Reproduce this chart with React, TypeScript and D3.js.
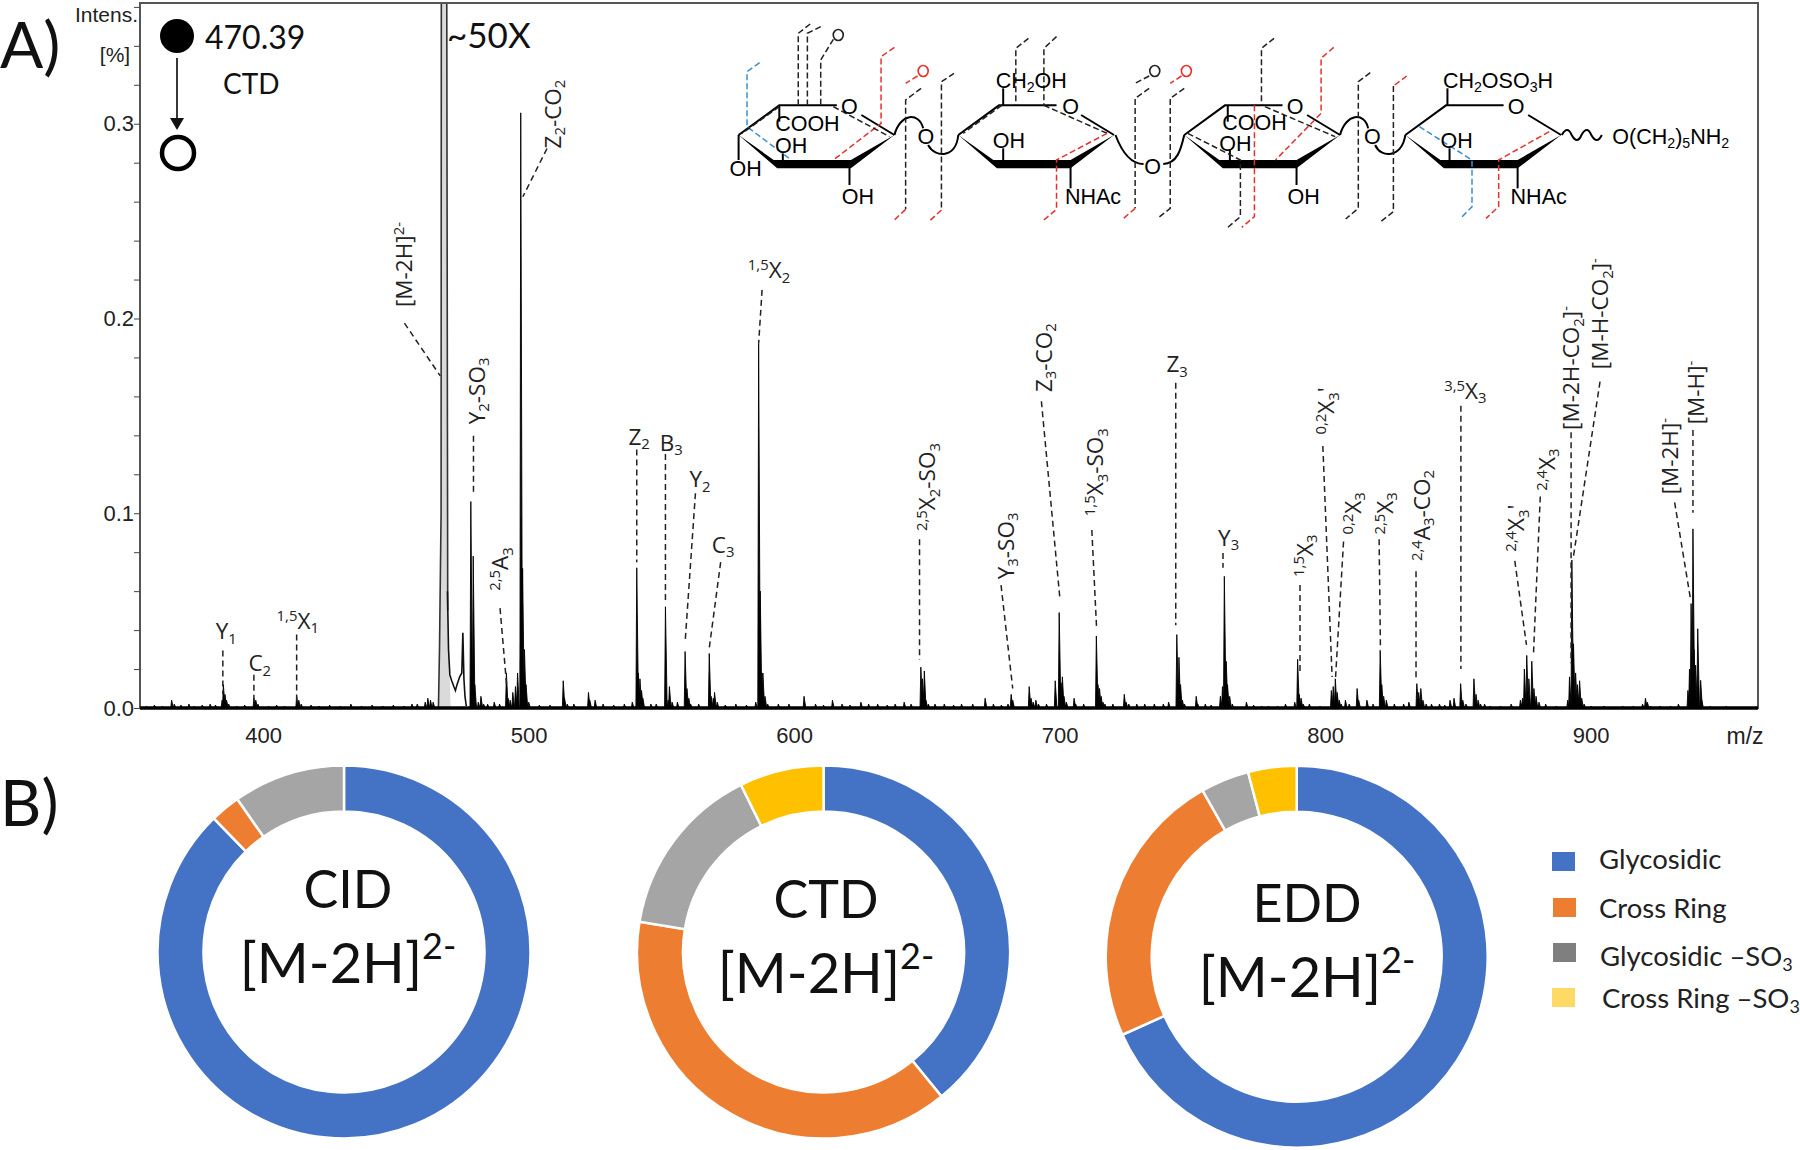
import * as d3 from 'd3';
import React, { useRef, useEffect } from 'react';

// ---- spectrum values: [m/z, relative intensity %]
const lowMassPeaks = [
  [365.5, .004], [366.5, .002], [384.5, .004], [385, .012], [385.6, .007], [386.2, .004], [387, .002],
  [396.5, .005], [397.2, .004], [398, .002], [412.6, .006], [413.4, .004], [414.3, .002],
  [461, .003], [462, .005], [463, .004], [464, .003], [478.2, .106], [479.1, .078], [479.7, .012],
  [481, .003], [482, .006], [483, .002], [487, .003], [491.6, .018], [492.2, .005], [493, .004],
  [494, .008], [495, .011], [495.8, .018], [497, .3056], [497.7, .0717], [498.4, .03], [499, .012],
  [500, .003], [513, .014], [513.5, .005], [514.5, .002], [522.5, .008], [523, .004], [525, .004],
  [539, .003], [540.7, .072], [541.3, .018], [541.9, .015], [542.5, .009], [543, .005],
  [551.5, .052], [552.5, .004], [553, .011], [554, .003], [556, .003],
  [558.9, .029], [559.6, .01], [560.3, .005], [561, .002], [568, .028], [568.7, .006], [569.5, .005],
  [570, .008], [571, .003], [585.5, .003], [586.6, .187], [587.2, .06], [587.8, .018], [588.2, .018],
  [589, .006], [590, .002],
];
const midMassPeaks = [
  [603.7, .006], [614.4, .004], [625.1, .003], [631.4, .002], [641.4, .003],
  [647.7, .021], [648.3, .015], [649, .019], [649.6, .004], [650.5, .002], [656.5, .002], [667.2, .002],
  [671.9, .005], [680.5, .002], [681.7, .007], [682.3, .004], [688.5, .011], [689.2, .005], [690, .003],
  [691, .004], [692, .002], [698.3, .014], [699.8, .049], [700.5, .013], [701, .016], [701.6, .006],
  [702.5, .003], [705.4, .005], [706, .002], [713.8, .037], [714.4, .012], [715, .01], [715.6, .006],
  [716.3, .003], [717, .002], [724.3, .007], [725, .003], [726, .002], [735.6, .002],
  [744.1, .0377], [744.9, .026], [745.5, .012], [746.2, .004], [747, .002], [751.4, .006], [752, .002],
  [754.8, .002], [760.5, .006], [761.3, .011], [762, .0676], [762.7, .024], [763.2, .012], [764, .006],
  [765, .002], [770.3, .003], [778.6, .001],
];
const highMassPeaks = [
  [788.5, .003], [789.6, .025], [790.2, .007], [790.9, .005], [791.7, .002], [802.3, .009], [803, .011],
  [803.8, .015], [804.5, .008], [805.3, .004], [806, .002], [807.6, .004], [812, .01], [812.6, .004],
  [815.7, .004], [820.7, .0296], [821.3, .012], [822, .006], [823, .004], [829.5, .002], [831.5, .003],
  [834.5, .0125], [835.2, .008], [836, .01], [836.8, .004], [838, .002], [840, .002], [847, .004],
  [848.5, .005], [851, .0125], [851.8, .004], [853, .002], [856, .015], [856.8, .007], [857.6, .004],
  [858.5, .002], [862, .001], [873.5, .004], [874.3, .005], [875, .02], [875.9, .027], [876.7, .015],
  [877.8, .024], [878.6, .01], [879.4, .006], [880.5, .003], [891.3, .004], [892, .016], [892.9, .076],
  [893.5, .033], [894.3, .018], [895, .012], [895.8, .014], [896.6, .005], [897.5, .002],
  [919.5, .002], [920.6, .005], [921.3, .003], [922.5, .001], [936.6, .009], [937.2, .02], [937.8, .0536],
  [938.5, .092], [938.9, .03], [939.5, .022], [940.3, .0407], [941.4, .0142], [941.8, .004],
];
const noisePeaks = [
  [356, .001], [359, .0015], [362, .001], [369, .0015], [372, .002], [374, .001], [377, .0015], [380, .002],
  [382, .0015], [390, .001], [393, .0015], [402, .001], [405, .0015], [408, .001], [418, .0015], [421, .001],
  [425, .0015], [429, .001], [433, .002], [437, .001], [441, .0015], [445, .001], [449, .0015], [453, .001],
  [456, .002], [458, .002], [484.5, .002], [489, .002], [504, .0015], [508, .0015], [517, .002], [528, .002],
  [532, .0015], [536, .002], [546, .002], [548, .002], [564, .002], [574, .0015], [578, .002], [582, .0015],
  [594, .002], [598, .002], [608, .002], [611, .0015], [618, .002], [621, .0015], [628, .002], [635, .0015],
  [638, .002], [644, .002], [653, .002], [660, .0015], [663, .002], [675, .002], [678, .0015], [695, .002],
  [709, .002], [720, .002], [729, .002], [732, .002], [739, .002], [741, .003], [757, .0015], [773, .0015],
  [776, .001], [782, .001], [785, .002], [794, .002], [798, .001], [809, .002], [818, .002], [826, .002],
  [843, .002], [845, .0015], [860, .002], [866, .001], [870, .002], [883, .002], [887, .001], [900, .001],
  [905, .001], [912, .001], [916, .001], [926, .001], [930, .001], [933, .002], [945, .001], [951, .001],
];
const precursorProfile = [
  [466, 0], [466.4, .03], [467, .1], [467.1, .4], [469.1, .4], [469.5, .05], [470.6, 0],
];
const shoulderProfile = [[495.8, 0], [496.4, .025], [498.2, .025], [498.6, 0]];
const precursorTail = [
  [469.4, .06], [469.8, .03], [470.3, .017], [471, .014], [471.8, .011], [472.4, .009], [473, .012],
  [474, .016], [474.8, .018], [475.2, .0386], [475.6, .015], [476, .006], [476.5, .001],
];

const yTicks = d3.range(0, 0.37, 0.02);
const xTicks = [400, 500, 600, 700, 800, 900];

// ---- fragment annotations. text uses ^{} for upper and _{} for lower index
// [text, rotated, label m/z, label intensity, leader m/z 1, intensity 1, m/z 2, intensity 2]
const fragments: [string, boolean, number, number, number, number, number, number][] = [
  ['Y_{1}', false, 386.1, .0354, 384.8, .0295, 384.8, .0071],
  ['C_{2}', false, 398.7, .0189, 396.5, .0171, 396.5, .0041],
  ['^{1,5}X_{1}', false, 413, .0407, 412.6, .0378, 412.6, .0041],
  ['[M-2H]^{2-}', true, 453.2, .2059, 453.2, .1976, 466.7, .1705],
  ['Y_{2}-SO_{3}', true, 480.5, .1457, 479.2, .1398, 479.2, .1103],
  ['^{2,5}A_{3}', true, 489.2, .0602, 489.2, .0513, 491.8, .01],
  ['Z_{2}-CO_{2}', true, 509, .2873, 506.9, .2873, 497.8, .2625],
  ['Z_{2}', false, 541.6, .1351, 540.7, .1327, 540.7, .0749],
  ['B_{3}', false, 553.7, .1322, 551.5, .1304, 551.5, .0543],
  ['Y_{2}', false, 564.5, .1133, 562.8, .1103, 558.9, .0336],
  ['C_{3}', false, 573.2, .0796, 572.3, .0749, 568, .0307],
  ['^{1,5}X_{2}', false, 590.5, .2206, 587.9, .2147, 586.6, .187],
  ['^{2,5}X_{2}-SO_{3}', true, 650.2, .0909, 647.2, .0867, 647.2, .0248],
  ['Y_{3}-SO_{3}', true, 679.7, .0661, 677.9, .0631, 682.3, .01],
  ['Z_{3}-CO_{2}', true, 693.9, .1622, 693.1, .1575, 700, .0572],
  ['^{1,5}X_{3}-SO_{3}', true, 713.4, .0985, 712.1, .0914, 713.9, .0407],
  ['Z_{3}', false, 744.2, .1723, 743.7, .167, 743.7, .0425],
  ['Y_{3}', false, 763.6, .0832, 761.5, .0796, 761.5, .072],
  ['^{1,5}X_{3}', true, 792.2, .0673, 790.5, .0631, 790.5, .0189],
  ["^{0,2}X_{3}'", true, 800.4, .1404, 799.1, .1345, 802.6, .0159],
  ['^{0,2}X_{3}', true, 810.4, .0891, 806.9, .0855, 803.9, .0159],
  ['^{2,5}X_{3}', true, 822.5, .0891, 820.3, .0867, 820.8, .0301],
  ['^{2,4}A_{3}-CO_{2}', true, 836.4, .0755, 834.2, .0702, 834.2, .0147],
  ['^{3,5}X_{3}', false, 852.8, .1587, 851.1, .1552, 851.1, .02],
  ["^{2,4}X_{3}'", true, 871.9, .0802, 871.4, .0755, 875.8, .0324],
  ['^{2,4}X_{3}', true, 883.5, .1115, 881, .1086, 878.4, .0265],
  ['[M-2H-CO_{2}]^{-}', true, 892.6, .1428, 892.6, .1416, 892.6, .023],
  ['[M-H-CO_{2}]^{-}', true, 903.5, .174, 903.5, .1676, 893.5, .0779],
  ['[M-H]^{-}', true, 939.8, .1457, 938.5, .1428, 938.5, .1003],
  ['[M-2H]^{-}', true, 929.9, .1097, 931.6, .1056, 937.7, .0549],
];

// ---- fragment type shares of the three dissociation methods, in percent
const fragmentTypes = ['Glycosidic', 'Cross Ring', 'Glycosidic –SO', 'Cross Ring –SO'];
const cidShares = [87.7, 2.6, 9.7, 0];
const ctdShares = [39.1, 38.5, 15.1, 7.3];
const eddShares = [68.3, 23.5, 4.1, 4.1];
const donutColors = ['#4472C4', '#ED7D31', '#A5A5A5', '#FFC000'];
const legendColors = ['#4472C4', '#ED7D31', '#7F7F7F', '#FFD966'];

const CALIBRI = 'Lato, "Open Sans", sans-serif';
const ARIAL = '"Liberation Sans", Arial, sans-serif';
const LABEL = '"Open Sans", sans-serif';

const x = d3.scaleLinear().domain([353.6, 963]).range([140, 1758]);
const y = d3.scaleLinear().domain([0, 0.362]).range([708, 3]);

const stick = d3.line()
  .x((d: any) => x(d[0]))
  .y((d: any) => y(d[1]));

function peakPath(p: number[]) {
  return stick([[p[0] - 0.32, 0], [p[0], p[1]], [p[0] + 0.65, 0]] as any);
}

// turns 'X_{2}-SO_{3}' into tspans
function rich(text: string, size: number) {
  const parts = text.match(/(\^\{[^}]*\}|_\{[^}]*\}|[^_^]+)/g) || [];
  const out: any[] = [];
  let shift = 0;
  parts.forEach((p, i) => {
    const kind = p[0] === '^' ? 'up' : p[0] === '_' ? 'down' : 'base';
    const t = kind === 'base' ? p : p.slice(2, -1);
    const target = kind === 'up' ? -0.36 * size : kind === 'down' ? 0.2 * size : 0;
    out.push(
      <tspan key={i} dy={target - shift} fontSize={kind === 'base' ? size : size * 0.66}>{t}</tspan>
    );
    shift = target;
  });
  return out;
}

function Spectrum() {
  const yAxisRef = useRef<SVGGElement>(null);
  const xAxisRef = useRef<SVGGElement>(null);

  useEffect(() => {
    const yAxis = d3.axisLeft(y)
      .tickValues(yTicks)
      .tickSize(6)
      .tickPadding(0)
      .tickFormat((d: any) => (Math.round(d * 100) % 10 === 0 ? d3.format('.1f')(d) : ''));
    d3.select(yAxisRef.current).call(yAxis as any);
    d3.select(yAxisRef.current).select('.domain').remove();
    d3.select(yAxisRef.current).selectAll('line').attr('stroke', '#444');
    d3.select(yAxisRef.current).selectAll('text').attr('font-size', 22).attr('font-family', ARIAL).attr('fill', '#222');

    const xAxis = d3.axisBottom(x).tickValues(xTicks).tickSize(0).tickPadding(19).tickFormat(d3.format('d') as any);
    d3.select(xAxisRef.current).call(xAxis as any);
    d3.select(xAxisRef.current).select('.domain').remove();
    d3.select(xAxisRef.current).selectAll('text').attr('font-size', 22).attr('font-family', ARIAL).attr('fill', '#222');
  }, []);

  const allPeaks = [...noisePeaks, ...lowMassPeaks, ...midMassPeaks, ...highMassPeaks];

  return (
    <g>
      <defs>
        <clipPath id="plotClip">
          <rect x={140} y={3} width={1618} height={705} />
        </clipPath>
      </defs>
      <g clipPath="url(#plotClip)">
        <path d={stick(precursorProfile as any) + 'Z'} fill="#dadada" stroke="none" />
        <path d={stick(shoulderProfile as any) + 'Z'} fill="#dadada" stroke="none" />
        <path d={stick(precursorProfile.slice(0, 6) as any) || ''} fill="none" stroke="#333" strokeWidth={1.6} />
        <path d={stick(precursorTail as any) || ''} fill="none" stroke="#111" strokeWidth={1.6} />
        {allPeaks.map((p, i) => (
          <path key={i} d={peakPath(p) || ''} fill="#000" stroke="#000" strokeWidth={0.9} strokeLinejoin="bevel" />
        ))}
      </g>
      <rect x={140} y={3} width={1618} height={705} fill="none" stroke="#555" strokeWidth={2} />
      <line x1={x.range()[0]} x2={x.range()[1]} y1={y(0)} y2={y(0)} stroke="#000" strokeWidth={3.5} />
      <g ref={yAxisRef} transform="translate(140,0)" />
      <g ref={xAxisRef} transform="translate(0,708)" />
      <text x={1745} y={744} fontSize={23} fontFamily={ARIAL} textAnchor="middle" fill="#222">m/z</text>
      <text x={138} y={22} fontSize={21} fontFamily={ARIAL} textAnchor="end" fill="#222" textLength={63} lengthAdjust="spacingAndGlyphs">Intens.</text>
      <text x={115} y={62} fontSize={21} fontFamily={ARIAL} textAnchor="middle" fill="#222">[%]</text>

      {fragments.map(([label, rotated, lm, li, m1, i1, m2, i2], k) => (
        <g key={k}>
          <line x1={x(m1)} y1={y(i1)} x2={x(m2)} y2={y(i2)} stroke="#222" strokeWidth={1.5} strokeDasharray="6 4" />
          {rotated ? (
            <text
              transform={`translate(${x(lm) + 8},${y(li)}) rotate(-90)`}
              fontFamily={LABEL}
              fill="#222"
            >{rich(label, 22.5)}</text>
          ) : (
            <text x={x(lm)} y={y(li)} textAnchor="middle" fontFamily={LABEL} fill="#222">{rich(label, 22.5)}</text>
          )}
        </g>
      ))}
    </g>
  );
}

// the glycan drawing is laid out in its own sketch units, mapped into the plot corner
const mx = d3.scaleLinear().domain([0, 1100]).range([700, 1472]);
const my = d3.scaleLinear().domain([0, 780]).range([0, 260]);
const pt = (X: number, Y: number) => `${mx(X)},${my(Y)}`;
const ringStarts = [55, 368, 690, 1005];
const BLACK = '#222', RED = '#e8302a', BLUE = '#3b8fd0';
// dashed cleavage lines: colour, then a polyline in sketch units
const cleavages: [string, number[][]][] = [
  [BLUE, [[85, 188], [67, 215], [67, 380], [130, 480]]],
  [BLACK, [[157, 72], [140, 100], [140, 316]]],
  [BLACK, [[172, 80], [153, 100], [153, 316]]],
  [BLACK, [[190, 118], [172, 180], [172, 316]]],
  [RED, [[277, 142], [258, 170], [258, 370], [190, 480]]],
  [BLACK, [[113, 320], [60, 400]]],
  [BLACK, [[190, 320], [270, 410]]],
  [BLACK, [[315, 265], [293, 300], [293, 628]]],
  [RED, [[293, 628], [277, 660]]],
  [RED, [[310, 228], [293, 250]]],
  [BLACK, [[362, 220], [344, 245], [344, 630]]],
  [RED, [[344, 630], [327, 663]]],
  [BLACK, [[468, 115], [450, 145], [450, 316]]],
  [BLACK, [[508, 110], [490, 145], [490, 316]]],
  [BLACK, [[430, 316], [375, 400]]],
  [BLACK, [[490, 316], [580, 400]]],
  [RED, [[580, 400], [508, 480], [508, 628], [490, 660]]],
  [BLACK, [[640, 228], [620, 250]]],
  [BLACK, [[640, 265], [620, 295], [620, 625]]],
  [RED, [[620, 625], [602, 658]]],
  [RED, [[686, 228], [670, 250]]],
  [BLACK, [[690, 265], [670, 295], [670, 625], [652, 655]]],
  [BLACK, [[818, 115], [800, 145], [800, 316]]],
  [RED, [[903, 142], [885, 175], [885, 340], [820, 480]]],
  [BLACK, [[695, 400], [770, 480], [770, 650], [752, 682]]],
  [RED, [[790, 316], [790, 650], [772, 682]]],
  [BLACK, [[805, 320], [905, 410]]],
  [BLACK, [[955, 218], [938, 245], [938, 625], [920, 657]]],
  [RED, [[1007, 228], [988, 258]]],
  [BLACK, [[988, 258], [988, 635], [970, 665]]],
  [BLUE, [[1025, 380], [1100, 480], [1100, 620], [1085, 652]]],
  [RED, [[1210, 395], [1138, 480], [1138, 620], [1120, 655]]],
];
const cleavageRings: [number, number, string][] = [
  [197, 105, BLACK], [318, 213, RED], [648, 213, BLACK], [693, 213, RED],
];
const bonds = [
  [[55, 405], [55, 480]], [[213, 495], [213, 555]], [[118, 460], [118, 495]], [[113, 316], [113, 365]],
  [[432, 316], [432, 265]], [[432, 445], [432, 495]], [[528, 495], [528, 565]],
  [[752, 316], [752, 365]], [[755, 450], [755, 495]], [[850, 495], [850, 555]],
  [[1065, 316], [1065, 265]], [[1068, 445], [1068, 495]], [[1165, 495], [1165, 565]],
];
const structureText: [string, number, number][] = [
  ['COOH', 153, 372], ['OH', 130, 438], ['OH', 65, 507], ['OH', 225, 592], ['O', 213, 320], ['O', 322, 410],
  ['CH_{2}OH', 472, 243], ['OH', 440, 422], ['NHAc', 560, 592], ['O', 528, 320], ['O', 645, 500],
  ['COOH', 790, 370], ['OH', 763, 432], ['OH', 860, 592], ['O', 848, 320], ['O', 958, 410],
  ['CH_{2}OSO_{3}H', 1137, 243], ['OH', 1078, 422], ['NHAc', 1195, 592], ['O', 1163, 320],
];

function Structure() {
  const dash = d3.line().x((d: any) => mx(d[0])).y((d: any) => my(d[1]));
  return (
    <g>
      {ringStarts.map((s, i) => (
        <g key={i} fill="none" stroke="#000" strokeWidth={2}>
          <path d={`M${pt(s, 405)} L${pt(s + 58, 316)} L${pt(s + 140, 316)} M${pt(s + 175, 345)} L${pt(s + 222, 405)}`} />
          <path
            d={`M${pt(s, 405)} L${pt(s + 50, 480)} L${pt(s + 160, 480)} L${pt(s + 222, 405)} L${pt(s + 160, 505)} L${pt(s + 55, 505)} Z`}
            fill="#000"
            stroke="none"
          />
        </g>
      ))}
      <path
        fill="none"
        stroke="#000"
        strokeWidth={2}
        d={`M${pt(277, 405)} C${pt(285, 340)} ${pt(312, 335)} ${pt(318, 385)}
            M${pt(325, 435)} C${pt(335, 475)} ${pt(365, 475)} ${pt(368, 405)}
            M${pt(592, 405)} C${pt(600, 450)} ${pt(612, 492)} ${pt(632, 492)}
            M${pt(660, 492)} C${pt(680, 490)} ${pt(685, 450)} ${pt(690, 405)}
            M${pt(912, 405)} C${pt(920, 340)} ${pt(947, 335)} ${pt(952, 385)}
            M${pt(962, 435)} C${pt(970, 475)} ${pt(1000, 475)} ${pt(1005, 405)}
            M${pt(1228, 405)} Q${pt(1236, 375)} ${pt(1242, 405)} Q${pt(1250, 435)} ${pt(1256, 405)} Q${pt(1264, 375)} ${pt(1270, 405)} Q${pt(1278, 435)} ${pt(1285, 405)}`}
      />
      {bonds.map((b, i) => (
        <path key={i} d={dash(b as any) || ''} stroke="#000" strokeWidth={2} fill="none" />
      ))}
      {cleavages.map(([c, pts], i) => (
        <path key={i} d={dash(pts as any) || ''} stroke={c} strokeWidth={1.5} strokeDasharray="6 3" fill="none" />
      ))}
      {cleavageRings.map(([cx, cy, c], i) => (
        <ellipse key={i} cx={mx(cx)} cy={my(cy)} rx={5} ry={5.5} fill="#fff" stroke={c} strokeWidth={1.6} />
      ))}
      {structureText.map(([t, X, Y], i) => (
        <text key={i} x={mx(X)} y={my(Y) + 7} textAnchor="middle" fontFamily={ARIAL} fill="#000">{rich(t, 21.5)}</text>
      ))}
      <text x={mx(1300)} y={my(410) + 7} fontFamily={ARIAL} fill="#000">{rich('O(CH_{2})_{5}NH_{2}', 21.5)}</text>
    </g>
  );
}

function Donut({ values, cx, cy, r0, r1, name, nameY, formulaY, textX }: any) {
  const pie = d3.pie().sort(null).value((d: any) => d);
  const arc = d3.arc().innerRadius(r0).outerRadius(r1);
  return (
    <g>
      <g transform={`translate(${cx},${cy})`}>
        {pie(values).map((s: any, i: number) => (
          <path key={i} d={arc(s as any) || ''} fill={donutColors[i]} stroke="#fff" strokeWidth={s.value > 0 ? 2.5 : 0} />
        ))}
      </g>
      <text x={textX} y={nameY} textAnchor="middle" fontFamily={CALIBRI} fontSize={52} fill="#111">{name}</text>
      <text x={textX} y={formulaY} textAnchor="middle" fontFamily={CALIBRI} fontSize={56} fill="#111">
        [M-2H]<tspan dy={-24} fontSize={36}>2-</tspan>
      </text>
    </g>
  );
}

function Legend() {
  const rowBox = [[1552, 852], [1553, 898], [1553, 943], [1552, 988]];
  const rowText = [[1599, 869], [1599, 918], [1600, 966], [1602, 1008]];
  const rows = d3.range(fragmentTypes.length);
  return (
    <g>
      {rows.map(i => (
        <g key={i}>
          <rect x={rowBox[i][0]} y={rowBox[i][1]} width={23} height={19} fill={legendColors[i]} />
          <text x={rowText[i][0]} y={rowText[i][1]} fontFamily={CALIBRI} fontSize={27.5} fill="#222">
            {fragmentTypes[i]}
            {i > 1 ? <tspan dy={5} fontSize={18}>3</tspan> : null}
          </text>
        </g>
      ))}
    </g>
  );
}

export default function App() {
  return (
    <svg
      width={1800}
      height={1150}
      viewBox="0 0 1800 1150"
      style={{ position: 'absolute', left: 0, top: 0, background: '#fff' }}
    >
      <Spectrum />
      <Structure />

      {/* panel letters and precursor scheme */}
      <text x={0} y={68} fontFamily={CALIBRI} fontSize={64} fill="#111">A)</text>
      <text x={0} y={826} fontFamily={CALIBRI} fontSize={64} fill="#111">B)</text>
      <circle cx={177} cy={36} r={17} fill="#000" />
      <text x={205} y={49} fontFamily={CALIBRI} fontSize={32} fill="#111">470.39</text>
      <text x={223} y={94} fontFamily={CALIBRI} fontSize={28} fill="#111">CTD</text>
      <line x1={177} y1={58} x2={177} y2={120} stroke="#222" strokeWidth={1.8} />
      <path d="M170,118 L184,118 L177,130 Z" fill="#111" />
      <circle cx={178} cy={153} r={16} fill="none" stroke="#000" strokeWidth={4.5} />
      <text x={447} y={48} fontFamily={CALIBRI} fontSize={35} fill="#111">~50X</text>

      <Donut values={cidShares} cx={344} cy={952} r0={140.5} r1={186.5} name="CID" nameY={908} formulaY={983} textX={348} />
      <Donut values={ctdShares} cx={823.5} cy={952} r0={140.5} r1={186.5} name="CTD" nameY={918} formulaY={993} textX={826} />
      <Donut values={eddShares} cx={1296.7} cy={956.7} r0={145} r1={191} name="EDD" nameY={922} formulaY={997} textX={1307} />
      <Legend />
    </svg>
  );
}
